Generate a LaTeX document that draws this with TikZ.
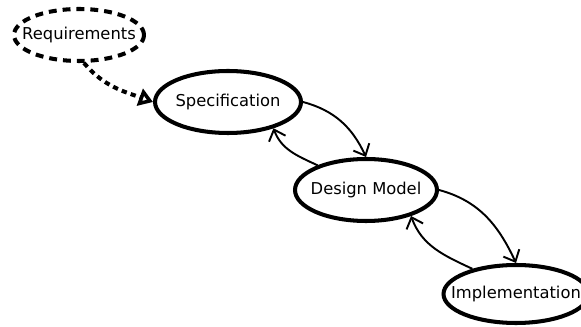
\documentclass[tikz,border=0pt]{standalone}
\usepackage{fontspec}
\setmainfont{DejaVu Sans}
\usepackage{tikz}
\usetikzlibrary{arrows.meta, positioning, shapes, shapes.geometric}
\definecolor{FlowBlack}{HTML}{000000}
\definecolor{FlowWhite}{HTML}{ffffff}
\newcommand{\stagename}[1]{\makebox[0pt]{#1}}
\tikzset{
  stage/.style={ellipse, draw=FlowBlack, fill=FlowWhite, line width=2.3pt,
    inner sep=0pt, font=\fontsize{9.3}{11}\selectfont},
  source/.style={stage, dash pattern=on 4.5pt off 3.4pt},
  forward/.style={draw=FlowBlack, line width=1.1pt, -{Straight Barb[length=5.5pt,width=10pt]}},
  refine/.style={draw=FlowBlack, line width=2.3pt, dash pattern=on 3pt off 2.4pt,
    -{Triangle[open,length=8pt,width=10pt]}}
}

\begin{document}
\begin{tikzpicture}[x=0.02cm, y=-0.02cm]

    % Frame
    \useasboundingbox (0,0) rectangle (581,327);
    \clip (0,0) rectangle (581,327);

    % Stages
    \node[source, minimum width=2.6cm, minimum height=1.04cm] (req) at (79,35) {\stagename{Requirements}};
    \node[stage, minimum width=2.92cm, minimum height=1.24cm] (spec) at (228,102) {\stagename{Specification}};
    \node[stage, minimum width=2.84cm, minimum height=1.24cm] (design) at (366,190) {\stagename{Design Model}};
    \node[stage, minimum width=2.9cm, minimum height=1.16cm] (impl) at (516,294) {\stagename{Implementation}};

    % Links
    \draw[refine] (req.-80) to[out=-50, in=160] (spec.west);
    \draw[forward] (spec.east) to[out=-15, in=115] (design.north);
    \draw[forward] (design.153) to[out=155, in=-70] (spec.-30);
    \draw[forward] (design.east) to[out=-15, in=115] (impl.north);
    \draw[forward] (impl.150) to[out=155, in=-70] (design.-30);

\end{tikzpicture}
\end{document}
